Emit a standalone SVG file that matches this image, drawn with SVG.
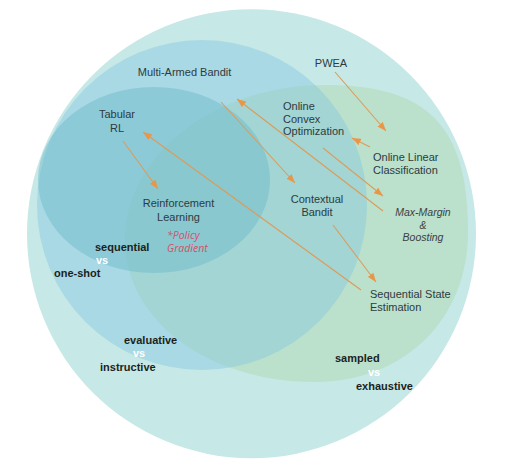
<svg xmlns="http://www.w3.org/2000/svg" width="507" height="475" viewBox="0 0 507 475">
<style>
.lbl{font-family:"Liberation Sans",Arial,sans-serif;font-size:11px;fill:#2e3a3e}
.it{font-style:italic;font-size:10.5px;fill:#3a4043}
.pg{font-family:"Open Sans","Liberation Sans",sans-serif;font-style:italic;font-size:10.5px;fill:#d4506a}
.dim{font-family:"Liberation Sans",Arial,sans-serif;font-size:11px;font-weight:bold;fill:#1c1f21}
.vs{font-family:"Liberation Sans",Arial,sans-serif;font-size:11px;font-weight:bold;fill:#ffffff}
.mid{text-anchor:middle}
.conn line{stroke:#dc9b58;stroke-width:1.1;fill:none;marker-end:url(#ah)}
</style>
<defs>
<marker id="ah" markerUnits="userSpaceOnUse" markerWidth="9" markerHeight="7" refX="9" refY="3.5" orient="auto">
<path d="M0,0 L9,3.5 L0,7 Z" fill="#e8974a"/>
</marker>
</defs>
<rect width="507" height="475" fill="#ffffff"/>
<g id="regions">
<circle id="outer" cx="251.5" cy="233.7" r="224.5" fill="#c6e8e6"/>
<path id="green-set" d="M468,232 C468,319 404,382 315,382 C208,382 125,320 125,240 C125,155 215,85 325,85 C428,85 468,126 468,232 Z" fill="#bbe1cc"/>
<circle id="bandit-set" cx="202" cy="205" r="165" fill="#7ec3e1" fill-opacity="0.4"/>
<ellipse id="tabular-set" cx="154" cy="180" rx="116" ry="93" fill="#6bb9ca" fill-opacity="0.45"/>
</g>
<g id="connectors" class="conn">
<line x1="335" y1="72" x2="386" y2="131"/>
<line x1="370" y1="147" x2="352" y2="138"/>
<line x1="323" y1="148" x2="383" y2="196"/>
<line x1="383" y1="211" x2="237" y2="99"/>
<line x1="221" y1="102" x2="295" y2="183"/>
<line x1="123" y1="141" x2="158" y2="189"/>
<line x1="361" y1="290" x2="143" y2="132"/>
<line x1="333" y1="225" x2="376" y2="282"/>
</g>
<g id="multi-armed-bandit"><text class="lbl mid" x="184.5" y="75.5">Multi-Armed Bandit</text></g>
<g id="pwea"><text class="lbl mid" x="331" y="66.5">PWEA</text></g>
<g id="tabular-rl"><text class="lbl mid" x="117" y="118">Tabular</text><text class="lbl mid" x="117" y="131.5">RL</text></g>
<g id="online-convex-optimization"><text class="lbl" x="283" y="110">Online</text><text class="lbl" x="283" y="122.5">Convex</text><text class="lbl" x="283" y="135">Optimization</text></g>
<g id="online-linear-classification"><text class="lbl" x="373" y="160.5">Online Linear</text><text class="lbl" x="373" y="173.5">Classification</text></g>
<g id="reinforcement-learning"><text class="lbl mid" x="178.5" y="206.5">Reinforcement</text><text class="lbl mid" x="178.5" y="220.5">Learning</text><text class="pg" x="167" y="239">*Policy</text><text class="pg" x="167" y="252">Gradient</text></g>
<g id="contextual-bandit"><text class="lbl mid" x="317" y="203">Contextual</text><text class="lbl mid" x="317" y="215.5">Bandit</text></g>
<g id="max-margin-boosting"><text class="lbl it mid" x="423" y="216">Max-Margin</text><text class="lbl it mid" x="423" y="228.5">&amp;</text><text class="lbl it mid" x="423" y="241">Boosting</text></g>
<g id="sequential-state-estimation"><text class="lbl" x="370" y="298">Sequential State</text><text class="lbl" x="370" y="310.5">Estimation</text></g>
<g id="dim-sequential"><text class="dim" x="95" y="250.5">sequential</text><text class="vs" x="96" y="264">vs</text><text class="dim" x="54" y="277">one-shot</text></g>
<g id="dim-evaluative"><text class="dim" x="124" y="344">evaluative</text><text class="vs" x="133" y="357">vs</text><text class="dim" x="100" y="370.5">instructive</text></g>
<g id="dim-sampled"><text class="dim" x="335" y="362">sampled</text><text class="vs" x="368" y="375.5">vs</text><text class="dim" x="356" y="389.5">exhaustive</text></g>
</svg>
